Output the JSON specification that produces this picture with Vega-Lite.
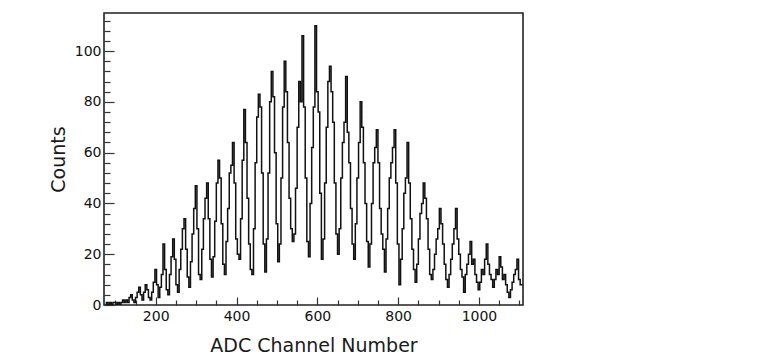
{
  "$schema": "https://vega.github.io/schema/vega-lite/v6.json",
  "width": 419,
  "height": 292,
  "autosize": {"type": "none"},
  "padding": {"left": 104, "top": 13, "right": 244, "bottom": 53},
  "background": "white",
  "config": {
    "view": {"stroke": "#222", "strokeWidth": 1.6},
    "font": "DejaVu Sans"
  },
  "data": {
    "values": [
      {"ch":76,"c":0},{"ch":80,"c":1},{"ch":84,"c":0},{"ch":88,"c":1},{"ch":92,"c":0},{"ch":96,"c":1},{"ch":100,"c":1},{"ch":104,"c":0},{"ch":108,"c":1},{"ch":112,"c":0},{"ch":116,"c":1},{"ch":120,"c":2},{"ch":124,"c":1},{"ch":128,"c":2},{"ch":132,"c":1},{"ch":136,"c":3},{"ch":140,"c":4},{"ch":144,"c":2},{"ch":148,"c":1},{"ch":152,"c":3},{"ch":156,"c":5},{"ch":160,"c":7},{"ch":164,"c":4},{"ch":168,"c":2},{"ch":172,"c":5},{"ch":176,"c":8},{"ch":180,"c":6},{"ch":184,"c":3},{"ch":188,"c":2},{"ch":192,"c":5},{"ch":196,"c":9},{"ch":200,"c":14},{"ch":204,"c":8},{"ch":208,"c":3},{"ch":212,"c":7},{"ch":216,"c":12},{"ch":220,"c":24},{"ch":224,"c":14},{"ch":228,"c":6},{"ch":232,"c":4},{"ch":236,"c":12},{"ch":240,"c":19},{"ch":244,"c":26},{"ch":248,"c":18},{"ch":252,"c":8},{"ch":256,"c":5},{"ch":260,"c":14},{"ch":264,"c":22},{"ch":268,"c":30},{"ch":272,"c":34},{"ch":276,"c":22},{"ch":280,"c":11},{"ch":284,"c":7},{"ch":288,"c":17},{"ch":292,"c":28},{"ch":296,"c":38},{"ch":300,"c":47},{"ch":304,"c":30},{"ch":308,"c":12},{"ch":312,"c":10},{"ch":316,"c":22},{"ch":320,"c":34},{"ch":324,"c":42},{"ch":328,"c":48},{"ch":332,"c":34},{"ch":336,"c":18},{"ch":340,"c":11},{"ch":344,"c":19},{"ch":348,"c":33},{"ch":352,"c":48},{"ch":356,"c":57},{"ch":360,"c":50},{"ch":364,"c":32},{"ch":368,"c":16},{"ch":372,"c":12},{"ch":376,"c":25},{"ch":380,"c":38},{"ch":384,"c":52},{"ch":388,"c":55},{"ch":392,"c":64},{"ch":396,"c":48},{"ch":400,"c":26},{"ch":404,"c":20},{"ch":408,"c":18},{"ch":412,"c":34},{"ch":416,"c":57},{"ch":420,"c":77},{"ch":424,"c":64},{"ch":428,"c":42},{"ch":432,"c":24},{"ch":436,"c":14},{"ch":440,"c":12},{"ch":444,"c":30},{"ch":448,"c":56},{"ch":452,"c":74},{"ch":456,"c":83},{"ch":460,"c":78},{"ch":464,"c":52},{"ch":468,"c":24},{"ch":472,"c":13},{"ch":476,"c":26},{"ch":480,"c":52},{"ch":484,"c":80},{"ch":488,"c":92},{"ch":492,"c":82},{"ch":496,"c":60},{"ch":500,"c":32},{"ch":504,"c":17},{"ch":508,"c":24},{"ch":512,"c":50},{"ch":516,"c":78},{"ch":520,"c":96},{"ch":524,"c":84},{"ch":528,"c":64},{"ch":532,"c":42},{"ch":536,"c":30},{"ch":540,"c":25},{"ch":544,"c":28},{"ch":548,"c":46},{"ch":552,"c":70},{"ch":556,"c":88},{"ch":560,"c":80},{"ch":564,"c":106},{"ch":568,"c":78},{"ch":572,"c":50},{"ch":576,"c":25},{"ch":580,"c":19},{"ch":584,"c":40},{"ch":588,"c":62},{"ch":592,"c":78},{"ch":596,"c":110},{"ch":600,"c":84},{"ch":604,"c":76},{"ch":608,"c":44},{"ch":612,"c":18},{"ch":616,"c":26},{"ch":620,"c":48},{"ch":624,"c":70},{"ch":628,"c":88},{"ch":632,"c":94},{"ch":636,"c":84},{"ch":640,"c":72},{"ch":644,"c":48},{"ch":648,"c":28},{"ch":652,"c":20},{"ch":656,"c":30},{"ch":660,"c":50},{"ch":664,"c":64},{"ch":668,"c":72},{"ch":672,"c":90},{"ch":676,"c":68},{"ch":680,"c":56},{"ch":684,"c":38},{"ch":688,"c":24},{"ch":692,"c":18},{"ch":696,"c":32},{"ch":700,"c":50},{"ch":704,"c":64},{"ch":708,"c":80},{"ch":712,"c":70},{"ch":716,"c":56},{"ch":720,"c":40},{"ch":724,"c":25},{"ch":728,"c":15},{"ch":732,"c":24},{"ch":736,"c":40},{"ch":740,"c":56},{"ch":744,"c":62},{"ch":748,"c":69},{"ch":752,"c":56},{"ch":756,"c":38},{"ch":760,"c":28},{"ch":764,"c":22},{"ch":768,"c":13},{"ch":772,"c":26},{"ch":776,"c":38},{"ch":780,"c":50},{"ch":784,"c":56},{"ch":788,"c":62},{"ch":792,"c":69},{"ch":796,"c":48},{"ch":800,"c":24},{"ch":804,"c":8},{"ch":808,"c":18},{"ch":812,"c":30},{"ch":816,"c":44},{"ch":820,"c":50},{"ch":824,"c":64},{"ch":828,"c":48},{"ch":832,"c":34},{"ch":836,"c":22},{"ch":840,"c":14},{"ch":844,"c":9},{"ch":848,"c":16},{"ch":852,"c":26},{"ch":856,"c":36},{"ch":860,"c":40},{"ch":864,"c":48},{"ch":868,"c":42},{"ch":872,"c":34},{"ch":876,"c":22},{"ch":880,"c":12},{"ch":884,"c":10},{"ch":888,"c":14},{"ch":892,"c":20},{"ch":896,"c":26},{"ch":900,"c":30},{"ch":904,"c":38},{"ch":908,"c":32},{"ch":912,"c":24},{"ch":916,"c":16},{"ch":920,"c":10},{"ch":924,"c":7},{"ch":928,"c":12},{"ch":932,"c":18},{"ch":936,"c":24},{"ch":940,"c":30},{"ch":944,"c":38},{"ch":948,"c":26},{"ch":952,"c":20},{"ch":956,"c":14},{"ch":960,"c":11},{"ch":964,"c":5},{"ch":968,"c":12},{"ch":972,"c":16},{"ch":976,"c":20},{"ch":980,"c":25},{"ch":984,"c":16},{"ch":988,"c":18},{"ch":992,"c":12},{"ch":996,"c":9},{"ch":1000,"c":6},{"ch":1004,"c":9},{"ch":1008,"c":14},{"ch":1012,"c":12},{"ch":1016,"c":18},{"ch":1020,"c":24},{"ch":1024,"c":16},{"ch":1028,"c":12},{"ch":1032,"c":10},{"ch":1036,"c":7},{"ch":1040,"c":10},{"ch":1044,"c":14},{"ch":1048,"c":12},{"ch":1052,"c":19},{"ch":1056,"c":15},{"ch":1060,"c":10},{"ch":1064,"c":12},{"ch":1068,"c":8},{"ch":1072,"c":5},{"ch":1076,"c":3},{"ch":1080,"c":6},{"ch":1084,"c":9},{"ch":1088,"c":12},{"ch":1092,"c":14},{"ch":1096,"c":18},{"ch":1100,"c":10},{"ch":1104,"c":8},{"ch":1108,"c":8}
    ]
  },
  "mark": {"type": "line", "interpolate": "step", "color": "#111", "strokeWidth": 1.5, "clip": true},
  "encoding": {
    "x": {
      "field": "ch", "type": "quantitative",
      "scale": {"domain": [72, 1109], "nice": false, "zero": false},
      "axis": {
        "title": "ADC Channel Number",
        "titleFont": "DejaVu Sans", "titleFontSize": 19, "titleFontWeight": "normal", "titleColor": "#1a1a1a", "titlePadding": 10,
        "values": [100,150,200,250,300,350,400,450,500,550,600,650,700,750,800,850,900,950,1000,1050,1100],
        "format": "d",
        "labelExpr": "datum.value % 200 === 0 ? datum.label : ''",
        "labelFont": "DejaVu Sans", "labelFontSize": 14, "labelColor": "#111", "labelPadding": 12,
        "tickSize": {"condition": {"test": "datum.value % 200 === 0", "value": -8}, "value": -5},
        "tickColor": "#333", "tickWidth": 1.2,
        "domain": false, "grid": false, "labelFlush": false, "labelOverlap": false
      }
    },
    "y": {
      "field": "c", "type": "quantitative",
      "scale": {"domain": [0, 115], "nice": false},
      "axis": {
        "title": "Counts",
        "titleFont": "DejaVu Sans", "titleFontSize": 19, "titleFontWeight": "normal", "titleColor": "#1a1a1a", "titlePadding": 6,
        "values": [0,4,8,12,16,20,24,28,32,36,40,44,48,52,56,60,64,68,72,76,80,84,88,92,96,100,104,108,112],
        "format": "d",
        "labelExpr": "datum.value % 20 === 0 ? datum.label : ''",
        "labelFont": "DejaVu Sans", "labelFontSize": 14, "labelColor": "#111", "labelPadding": 13,
        "tickSize": {"condition": {"test": "datum.value % 20 === 0", "value": -10}, "value": -6},
        "tickColor": "#333", "tickWidth": 1.2,
        "domain": false, "grid": false, "labelFlush": false, "labelOverlap": false
      }
    }
  }
}
